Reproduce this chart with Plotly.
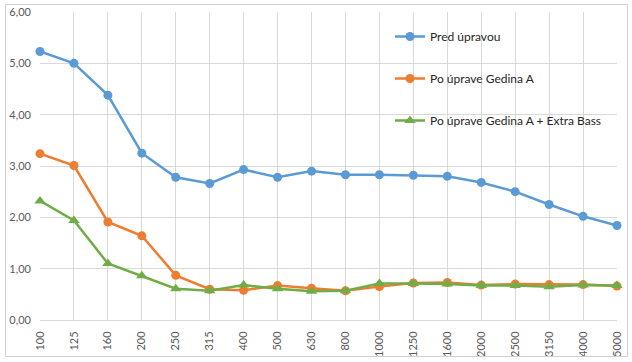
import plotly.graph_objects as go

categories = ["100", "125", "160", "200", "250", "315", "400", "500", "630", "800",
              "1000", "1250", "1600", "2000", "2500", "3150", "4000", "5000"]
pred = [5.23, 5.00, 4.38, 3.25, 2.78, 2.66, 2.93, 2.78, 2.90, 2.83, 2.83, 2.82, 2.80, 2.68, 2.50, 2.25, 2.02, 1.84]
po_a = [3.24, 3.01, 1.91, 1.64, 0.87, 0.60, 0.58, 0.67, 0.62, 0.57, 0.65, 0.72, 0.73, 0.68, 0.70, 0.69, 0.69, 0.66]
po_ab = [2.32, 1.94, 1.10, 0.86, 0.61, 0.57, 0.68, 0.61, 0.56, 0.57, 0.71, 0.71, 0.70, 0.67, 0.67, 0.65, 0.68, 0.67]
names = ["Pred úpravou", "Po úprave Gedina A", "Po úprave Gedina A + Extra Bass"]
colors = ["#5B9BD5", "#ED7D31", "#70AD47"]
symbols = ["circle", "circle", "triangle-up"]

fig = go.Figure()
for i, (ys, nm, c, s) in enumerate(zip([pred, po_a, po_ab], names, colors, symbols)):
    fig.add_trace(go.Scatter(
        x=categories, y=ys, name=nm, mode="lines+markers",
        line=dict(color=c, width=2.5),
        marker=dict(color=c, size=9 if s == "circle" else 10, symbol=s),
        cliponaxis=False, legendgroup=f"g{i}",
    ))

W, H = 632, 362
ml, mr, mt, mb = 40, 15, 12, 42
pw, ph = W - ml - mr, H - mt - mb

def px(x):
    return (x - ml) / pw

def py(y):
    return (H - mb - y) / ph

fig.update_layout(
    width=W, height=H,
    margin=dict(l=ml, r=mr, t=mt, b=mb, autoexpand=False),
    paper_bgcolor="white", plot_bgcolor="white",
    separators=", ",
    font=dict(family="Lato, Calibri, sans-serif", size=11, color="#595959"),
    showlegend=True,
    legend=dict(x=px(390), y=py(22), xanchor="left", yanchor="top",
                bgcolor="rgba(0,0,0,0)", tracegroupgap=23,
                font=dict(size=12, color="#262626")),
    shapes=[dict(type="rect", xref="paper", yref="paper",
                 x0=px(5.5), x1=px(627.5), y0=py(356.5), y1=py(4.5),
                 line=dict(color="#d0d0d0", width=1), fillcolor="rgba(0,0,0,0)", layer="above")],
)
fig.update_xaxes(type="category", range=[0, len(categories) - 1], automargin=False,
                 showgrid=True, gridcolor="#d9d9d9", gridwidth=1,
                 showline=True, linecolor="#d9d9d9", tickangle=-90,
                 ticks="", ticklabelstandoff=6, zeroline=False,
                 tickfont=dict(size=11, color="#595959"))
fig.update_yaxes(range=[0, 6], dtick=1, tickformat=".2f", automargin=False,
                 showgrid=True, gridcolor="#d9d9d9", gridwidth=1,
                 zeroline=False, showline=False, ticks="", ticklabelstandoff=8,
                 tickfont=dict(size=11, color="#595959"))

fig.write_html("out.html", config={"displayModeBar": False},
               post_script="document.body.style.margin='0';document.body.style.overflow='hidden';")
